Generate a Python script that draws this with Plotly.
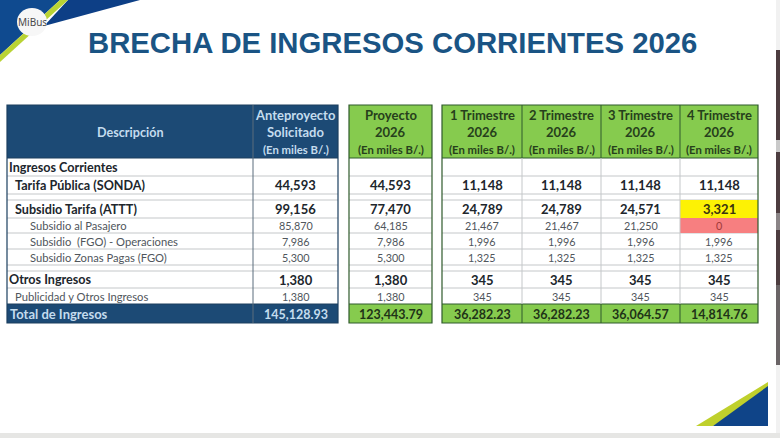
"""
Revenue gap table for the 2026 budget slide, drawn on a pixel-sized plot.
"""

import plotly.graph_objects as go

# Data
descripcion = [
    "Ingresos Corrientes",
    "Tarifa Pública (SONDA)",
    "",
    "Subsidio Tarifa (ATTT)",
    "Subsidio al Pasajero",
    "Subsidio  (FGO) - Operaciones",
    "Subsidio Zonas Pagas (FGO)",
    "",
    "Otros Ingresos",
    "Publicidad y Otros Ingresos",
]
anteproyecto = ["", "44,593", "", "99,156", "85,870", "7,986", "5,300", "", "1,380", "1,380"]
proyecto = ["", "44,593", "", "77,470", "64,185", "7,986", "5,300", "", "1,380", "1,380"]
trim1 = ["", "11,148", "", "24,789", "21,467", "1,996", "1,325", "", "345", "345"]
trim2 = ["", "11,148", "", "24,789", "21,467", "1,996", "1,325", "", "345", "345"]
trim3 = ["", "11,148", "", "24,571", "21,250", "1,996", "1,325", "", "345", "345"]
trim4 = ["", "11,148", "", "3,321", "0", "1,996", "1,325", "", "345", "345"]
totales = ["145,128.93", "123,443.79", "36,282.23", "36,282.23", "36,064.57", "14,814.76"]
encabezados = [
    ("Anteproyecto", "Solicitado"),
    ("Proyecto", "2026"),
    ("1 Trimestre", "2026"),
    ("2 Trimestre", "2026"),
    ("3 Trimestre", "2026"),
    ("4 Trimestre", "2026"),
]
unidad = "(En miles B/.)"
titulo = "BRECHA DE INGRESOS CORRIENTES 2026"

# Layout, in picture pixels
W, H = 780, 438
ROW_EDGES = [158, 176, 194, 200, 218, 233, 249, 265, 271, 288, 304]
HEAD_TOP, TOTAL_BOTTOM = 105, 323
COL_EDGES = [(253, 338), (349, 432), (442, 522), (522, 601), (601, 680), (680, 758)]
DESC_LEFT = 7
INDENT = [7, 13, 0, 13, 28, 28, 28, 0, 7, 13]
BOLD_ROWS = {0, 1, 3, 8}

NAVY = "#1c4a75"
GREEN = "#86cb4e"
EDGE_GREEN = "#2f5a2c"
GRID = "#c4c7c9"
TEXT_DARK = "#20262c"
TEXT_SOFT = "#50565c"
HEAD_BLUE = "#c4dcee"
FONT = "Lato"

fig = go.Figure()
shapes = []
notes = []


def rect(x0, x1, y0, y1, fill, line=None, width=1):
    shapes.append(dict(
        type="rect", x0=x0, x1=x1, y0=y0, y1=y1, fillcolor=fill,
        line=dict(color=line or fill, width=width if line else 0),
    ))


def poly(points, fill):
    path = "M " + " L ".join(f"{x} {y}" for x, y in points) + " Z"
    shapes.append(dict(type="path", path=path, fillcolor=fill, line=dict(width=0)))


def label(x, y, text, size, color, bold=False, anchor="center", family=FONT):
    notes.append(dict(
        x=x, y=y, text=f"<b>{text}</b>" if bold else text, showarrow=False,
        xanchor=anchor, yanchor="middle", align=anchor,
        font=dict(family=family, size=size, color=color),
    ))


def header(x0, x1, lines, color):
    cx = (x0 + x1) / 2
    label(cx, 115, lines[0], 13, color, bold=True)
    label(cx, 132, lines[1], 13, color, bold=True)
    label(cx, 149, unidad, 11.3, color, bold=True)


# Slide background, screen edges and corner decoration
rect(0, W, 0, H, "#ffffff")
rect(0, W, 433, H, "#e6e6e4")
rect(776, W, 0, 433, "#f1f1f1")
rect(776, W, 50, 365, "#4d3d40")
rect(776, W, 140, 152, "#c9c9c9")
rect(776, W, 213, 230, "#8a8486")
rect(776, W, 285, 365, "#6a6466")

poly([(0, 0), (60, 0), (0, 55)], "#0f4a8f")
poly([(68, 0), (140, 0), (44, 26)], "#0d3f86")
poly([(60, 0), (68, 0), (0, 62), (0, 55)], "#b9d334")
shapes.append(dict(type="circle", x0=17, x1=47, y0=8, y1=36, fillcolor="#f7f7f7", line=dict(width=0)))
label(32, 22, "MiBus", 10, "#4a4a4a", family="Noto Sans")

poly([(696, 426), (768, 382), (768, 395), (713, 426)], "#bfd02c")
poly([(713, 426), (768, 386), (768, 426)], "#0f4488")

label(392, 42, titulo, 29.3, "#1a5484", bold=True, family="Liberation Sans")

# Description column and header
rect(DESC_LEFT, 253, HEAD_TOP, ROW_EDGES[0], NAVY)
rect(DESC_LEFT, 253, ROW_EDGES[-1], TOTAL_BOTTOM, NAVY)
label(130, 132, "Descripción", 12.6, HEAD_BLUE, bold=True)
label(8, 314, "Total de Ingresos", 13, HEAD_BLUE, bold=True, anchor="left")

# Body rows: rules first, then the text
for y in ROW_EDGES[1:-1]:
    shapes.append(dict(type="line", x0=DESC_LEFT, x1=338, y0=y, y1=y, line=dict(color=GRID, width=1)))
    shapes.append(dict(type="line", x0=349, x1=432, y0=y, y1=y, line=dict(color=GRID, width=1)))
    shapes.append(dict(type="line", x0=442, x1=758, y0=y, y1=y, line=dict(color=GRID, width=1)))

rect(680, 758, ROW_EDGES[3], ROW_EDGES[4], "#fdf204")
rect(680, 758, ROW_EDGES[4], ROW_EDGES[5], "#f77f80")

for i, text in enumerate(descripcion):
    mid = (ROW_EDGES[i] + ROW_EDGES[i + 1]) / 2
    bold = i in BOLD_ROWS
    label(INDENT[i], mid, text, 12.6 if bold else 11.2,
          TEXT_DARK if bold else TEXT_SOFT, bold=bold, anchor="left")

columnas = [anteproyecto, proyecto, trim1, trim2, trim3, trim4]
for c, valores in enumerate(columnas):
    x0, x1 = COL_EDGES[c]
    cx = (x0 + x1) / 2
    if c == 0:
        rect(x0, x1, HEAD_TOP, ROW_EDGES[0], NAVY)
        rect(x0, x1, ROW_EDGES[-1], TOTAL_BOTTOM, NAVY)
        header(x0, x1, encabezados[c], HEAD_BLUE)
        label(cx, 314, totales[c], 12.5, HEAD_BLUE, bold=True)
    else:
        rect(x0, x1, HEAD_TOP, ROW_EDGES[0], GREEN)
        rect(x0, x1, ROW_EDGES[-1], TOTAL_BOTTOM, GREEN)
        header(x0, x1, encabezados[c], "#26401c")
        label(cx, 314, totales[c], 12.5, "#1e3317", bold=True)
    for i, text in enumerate(valores):
        if text:
            mid = (ROW_EDGES[i] + ROW_EDGES[i + 1]) / 2
            bold = i in BOLD_ROWS
            color = TEXT_DARK if bold else TEXT_SOFT
            if c == 5 and i == 3:
                color = "#3a3410"
            if c == 5 and i == 4:
                color = "#a03a3a"
            label(cx, mid, text, 13 if bold else 10.8, color, bold=bold)

# Outlines and column separators
for x0, x1 in [(DESC_LEFT, 338), (349, 432), (442, 758)]:
    edge = "#1c3f5f" if x0 == DESC_LEFT else EDGE_GREEN
    rect(x0, x1, HEAD_TOP, TOTAL_BOTTOM, "rgba(0,0,0,0)", line=edge, width=1.2)
    for y in (ROW_EDGES[0], ROW_EDGES[-1]):
        shapes.append(dict(type="line", x0=x0, x1=x1, y0=y, y1=y, line=dict(color=edge, width=1)))
for x in (253,):
    shapes.append(dict(type="line", x0=x, x1=x, y0=HEAD_TOP, y1=TOTAL_BOTTOM, line=dict(color="#5a6d7d", width=1)))
for x in (522, 601, 680):
    shapes.append(dict(type="line", x0=x, x1=x, y0=HEAD_TOP, y1=ROW_EDGES[0], line=dict(color=EDGE_GREEN, width=1)))
    shapes.append(dict(type="line", x0=x, x1=x, y0=ROW_EDGES[0], y1=ROW_EDGES[-1], line=dict(color=GRID, width=1)))
    shapes.append(dict(type="line", x0=x, x1=x, y0=ROW_EDGES[-1], y1=TOTAL_BOTTOM, line=dict(color=EDGE_GREEN, width=1)))

fig.update_layout(
    width=W, height=H,
    margin=dict(l=0, r=0, t=0, b=0),
    paper_bgcolor="#ffffff", plot_bgcolor="#ffffff",
    showlegend=False,
    xaxis=dict(range=[0, W], visible=False, fixedrange=True),
    yaxis=dict(range=[H, 0], visible=False, fixedrange=True),
    shapes=shapes,
    annotations=notes,
)

# the page's default body margin would push the slide off by 8px
fig.write_html("out.html", config=dict(displayModeBar=False),
               post_script="document.body.style.margin='0';")
